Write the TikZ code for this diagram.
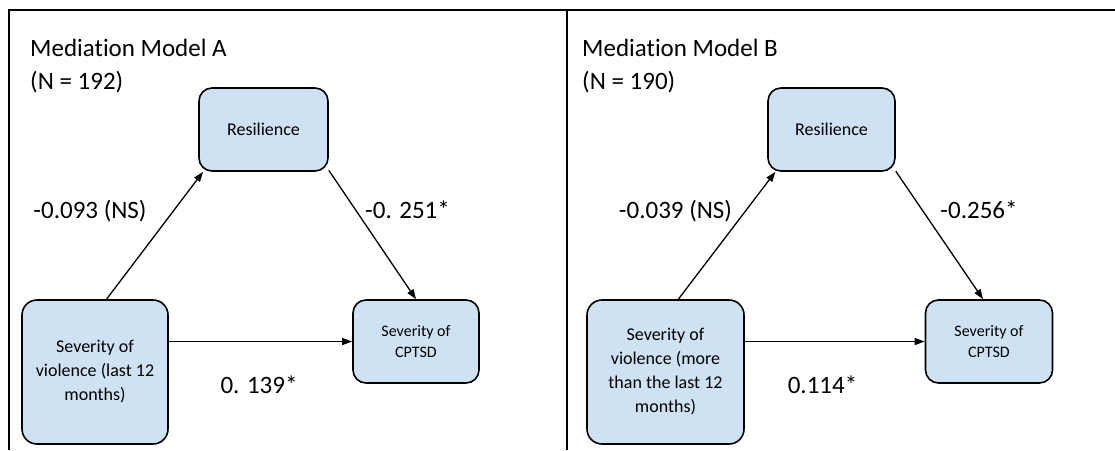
\documentclass[tikz,border=0pt]{standalone}
\usepackage{fontspec}
\setmainfont{Carlito}[Ligatures=NoCommon]
\usetikzlibrary{arrows.meta}
\definecolor{boxblue}{HTML}{CFE2F3}

\begin{document}
\begin{tikzpicture}[x=1pt,y=-1pt,
  box/.style={draw, line width=1.6pt, fill=boxblue, rounded corners=13pt, align=center, inner sep=0pt, font=\fontsize{18}{24}\selectfont},
  small/.style={font=\fontsize{16}{21}\selectfont},
  big/.style={font=\fontsize{25}{30}\selectfont, inner sep=0pt},
  arr/.style={-{Triangle[length=10pt,width=7pt]}, line width=1.3pt}]
\useasboundingbox (0,0) rectangle (1115,450);

% frame
\draw[line width=1.5pt] (1115,10) -- (9,10) -- (9,450);
\draw[line width=1.5pt] (567,10) -- (567,450);

% model A
\node[big, anchor=base west] (titleA) at (30,56) {Mediation Model A};
\node[big, anchor=base west] (nA) at (30,89) {(N = 192)};
\node[box, minimum width=129pt, minimum height=83pt] (rA) at (263.5,129.5) {Resilience};
\node[box, minimum width=146pt, minimum height=144pt, rounded corners=15pt] (vA) at (95,372) {Severity of\\violence (last 12\\months)};
\node[box, small, minimum width=126pt, minimum height=83pt] (cA) at (416,341.5) {Severity of\\CPTSD};
\draw[arr] (vA.81) -- (rA.215);
\draw[arr] (rA.-32) -- (cA.north);
\draw[arr] (vA.east |- cA) -- (cA.west);
\node[big, anchor=base] (aA) at (90,218) {-0.093 (NS)};
\node[big, anchor=base] (bA) at (407.5,218) {-0. 251*};
\node[big, anchor=base] (cpA) at (259,393) {0. 139*};

% model B
\node[big, anchor=base west] (titleB) at (582,56) {Mediation Model B};
\node[big, anchor=base west] (nB) at (582,89) {(N = 190)};
\node[box, minimum width=127pt, minimum height=83pt] (rB) at (831.5,129.5) {Resilience};
\node[box, minimum width=157pt, minimum height=144pt, rounded corners=15pt] (vB) at (665.5,372) {Severity of\\violence (more\\than the last 12\\months)};
\node[box, small, minimum width=127pt, minimum height=83pt] (cB) at (989,341.5) {Severity of\\CPTSD};
\draw[arr] (vB.80) -- (rB.217);
\draw[arr] (rB.-33) -- (cB.98);
\draw[arr] (vB.east |- cB) -- (cB.west);
\node[big, anchor=base] (aB) at (675.5,218) {-0.039 (NS)};
\node[big, anchor=base] (bB) at (979,218) {-0.256*};
\node[big, anchor=base] (cpB) at (822.5,393) {0.114*};

\end{tikzpicture}
\end{document}
